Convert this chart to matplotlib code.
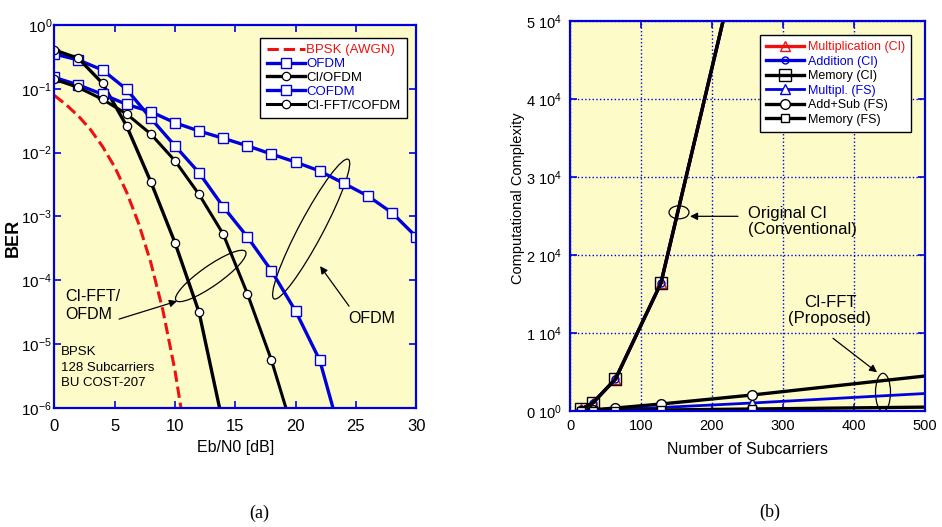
import numpy as np
import matplotlib
matplotlib.use("Agg")
import matplotlib.pyplot as plt
import matplotlib.transforms as mtrans
from matplotlib.patches import Ellipse

plt.rcParams['font.family'] = ['Liberation Sans', 'DejaVu Sans']
plt.rcParams['mathtext.default'] = 'regular'

# === (a) BER vs Eb/N0 ===
ebn0_bpsk = [0, 1, 2, 3, 4, 5, 6, 7, 8, 9, 10, 10.5]
ber_bpsk = [0.079, 0.056, 0.0375, 0.023, 0.0125, 0.006, 0.0024, 7.7e-4, 1.9e-4, 3.4e-5, 3.9e-6, 1.0e-6]

ebn0_ofdm = [0, 2, 4, 6, 8, 10, 12, 14, 16, 18, 20, 22, 23.1]
ber_ofdm = [0.351, 0.283, 0.197, 0.098, 0.0345, 0.0128, 0.00484, 0.00142, 4.8e-4, 1.41e-4, 3.3e-5, 5.6e-6, 1.0e-6]

ebn0_ci_ofdm = [0, 2, 4, 6, 8, 10, 12, 13.7]
ber_ci_ofdm = [0.406, 0.30, 0.122, 0.0261, 0.0035, 3.9e-4, 3.16e-5, 1.0e-6]

ebn0_cofdm = [0, 2, 4, 6, 8, 10, 12, 14, 16, 18, 20, 22, 24, 26, 28, 30]
ber_cofdm = [0.151, 0.115, 0.082, 0.057, 0.0438, 0.0294, 0.0218, 0.0168, 0.0128, 0.0095,
             0.00712, 0.00515, 0.0033, 0.00209, 0.00114, 4.8e-4]

ebn0_cifft = [0, 2, 4, 6, 8, 10, 12, 14, 16, 18, 19.2]
ber_cifft = [0.141, 0.105, 0.0685, 0.0403, 0.0196, 0.00748, 0.00222, 5.3e-4, 6.2e-5, 5.6e-6, 1.0e-6]

# === (b) complexity vs number of subcarriers ===
n_sub = [16, 32, 64, 128, 256, 512]
mult_ci = [256, 1024, 4096, 16384, 65536, 262144]
add_ci = [256, 1024, 4096, 16384, 65536, 262144]
mem_ci = [256, 1024, 4096, 16384, 65536, 262144]
mult_fs = [32, 80, 192, 448, 1024, 2304]
add_fs = [64, 160, 384, 896, 2048, 4608]
mem_fs = [16, 32, 64, 128, 256, 512]

bg = '#fdfcc8'
blue = '#0000dd'
red = '#ee1111'

fig = plt.figure(figsize=(9.42, 5.27), dpi=100)
ax1 = fig.add_axes([0.0576, 0.2258, 0.3843, 0.7268])
ax2 = fig.add_axes([0.6051, 0.2201, 0.3769, 0.7400])


def ring(ax, x, y, w, h, ang):
    tr = fig.dpi_scale_trans + mtrans.ScaledTranslation(x, y, ax.transData)
    ax.add_patch(Ellipse((0, 0), w / 100, h / 100, angle=ang, transform=tr,
                         fill=False, ec='black', lw=0.9, clip_on=False))


def arrow(ax, tail, head):
    ax.annotate('', xy=head, xytext=tail,
                arrowprops=dict(arrowstyle='-|>', color='black', lw=0.9,
                                mutation_scale=11, shrinkA=0, shrinkB=0))


for ax in (ax1, ax2):
    ax.set_facecolor(bg)
    for s in ax.spines.values():
        s.set_color(blue)
        s.set_linewidth(1.6)
    ax.tick_params(direction='in', color=blue, width=1.2, length=5,
                   top=True, right=True, labelcolor='black')

# --- panel (a) ---
ax1.plot(ebn0_bpsk, ber_bpsk, color=red, ls='--', lw=2.2, label='BPSK (AWGN)')
ax1.plot(ebn0_ofdm, ber_ofdm, color=blue, lw=2.4, marker='s', ms=7, mfc='white',
         mec=blue, mew=1.0, markevery=list(range(12)), label='OFDM')
ax1.plot(ebn0_ci_ofdm, ber_ci_ofdm, color='black', lw=2.4, marker='o', ms=6, mfc='white',
         mec='black', mew=0.9, markevery=list(range(7)), label='CI/OFDM')
ax1.plot(ebn0_cofdm, ber_cofdm, color=blue, lw=2.4, marker='s', ms=7.5, mfc='white',
         mec=blue, mew=1.0, label='COFDM')
ax1.plot(ebn0_cifft, ber_cifft, color='black', lw=2.2, marker='o', ms=6, mfc='white',
         mec='black', mew=0.9, markevery=list(range(10)), label='CI-FFT/COFDM')

ax1.set_yscale('log')
ax1.set_xlim(0, 30)
ax1.set_ylim(1e-6, 1)
ax1.set_xticks([0, 5, 10, 15, 20, 25, 30])
yt = [1e-6, 1e-5, 1e-4, 1e-3, 1e-2, 1e-1, 1]
ax1.set_yticks(yt)
ax1.set_yticklabels(['$10^{%d}$' % e for e in range(-6, 1)])
ax1.minorticks_off()
ax1.tick_params(axis='y', labelsize=11, pad=1.5)
ax1.tick_params(axis='x', labelsize=12, pad=8)
ax1.set_xlabel('Eb/N0 [dB]', fontsize=11.5, labelpad=4)
ax1.set_ylabel('BER', fontsize=13, fontweight='bold')
ax1.yaxis.set_label_coords(-0.089, 0.444)

leg1 = ax1.legend(loc='upper right', bbox_to_anchor=(0.975, 0.967), borderaxespad=0,
                  fontsize=9.5, handlelength=2.9, handletextpad=0.1, labelspacing=0.12,
                  fancybox=False, edgecolor='black', framealpha=1, borderpad=0.5)
leg1.get_frame().set_linewidth(1.0)
for t, c in zip(leg1.get_texts(), [red, blue, 'black', blue, 'black']):
    t.set_color(c)

ring(ax1, 12.97, 1.17e-4, 85, 20, 35)
ring(ax1, 21.29, 6.35e-4, 158, 24, 62)
arrow(ax1, (5.37, 2.47e-5), (10.17, 4.72e-5))
arrow(ax1, (24.43, 3.94e-5), (22.03, 1.67e-4))
ax1.text(0.89, 7.3e-5, 'CI-FFT/\nOFDM', fontsize=11.5, va='top', ha='left', linespacing=1.25)
ax1.text(24.38, 2.13e-5, 'OFDM', fontsize=11.5, va='baseline', ha='left')
ax1.text(0.56, 9.3e-6, 'BPSK\n128 Subcarriers\nBU COST-207', fontsize=9.5,
         va='top', ha='left', linespacing=1.4)

# --- panel (b) ---
ax2.grid(True, color=blue, ls=':', lw=1.0)
ax2.plot(n_sub, mult_ci, color=red, lw=2.4, marker='^', ms=7, mfc='none', mec=red,
         label='Multiplication (CI)')
ax2.plot(n_sub, add_ci, color=blue, lw=2.4, marker='o', ms=5, mfc='none', mec=blue,
         label='Addition (CI)')
ax2.plot(n_sub, mem_ci, color='black', lw=2.4, marker='s', ms=8, mfc='none', mec='black',
         label='Memory (CI)')
ax2.plot(n_sub, mult_fs, color=blue, lw=2.0, marker='^', ms=7, mfc='white', mec=blue,
         label='Multipl. (FS)')
ax2.plot(n_sub, add_fs, color='black', lw=2.4, marker='o', ms=7, mfc='white', mec='black',
         label='Add+Sub (FS)')
ax2.plot(n_sub, mem_fs, color='black', lw=2.4, marker='s', ms=6, mfc='white', mec='black',
         label='Memory (FS)')

ax2.set_xlim(0, 500)
ax2.set_ylim(0, 50000)
ax2.set_xticks([0, 100, 200, 300, 400, 500])
ax2.set_yticks([0, 10000, 20000, 30000, 40000, 50000])
ax2.set_yticklabels(['0 $10^0$', '1 $10^4$', '2 $10^4$', '3 $10^4$', '4 $10^4$', '5 $10^4$'])
ax2.tick_params(axis='both', labelsize=10.5, pad=6)
ax2.set_xlabel('Number of Subcarriers', fontsize=11.5, labelpad=6)
ax2.set_ylabel('Computational Complexity', fontsize=10.5)
ax2.yaxis.set_label_coords(-0.128, 0.547)

leg2 = ax2.legend(loc='upper right', bbox_to_anchor=(0.9606, 0.964), borderaxespad=0,
                  fontsize=9, handlelength=3.0, handletextpad=0.3, labelspacing=0.2,
                  fancybox=False, edgecolor='black', framealpha=1, borderpad=0.5)
leg2.get_frame().set_linewidth(1.0)
for t, c in zip(leg2.get_texts(), [red, blue, 'black', blue, 'black', 'black']):
    t.set_color(c)

ring(ax2, 153.5, 25474, 20, 13, 0)
ring(ax2, 440.8, 2397, 15, 38, 0)
arrow(ax2, (236.6, 24962), (169, 24962))
arrow(ax2, (370.4, 9321), (432.4, 4962))
ax2.text(250.7, 24256, 'Original CI\n(Conventional)', fontsize=12, va='center', ha='left',
         linespacing=1.1)
ax2.text(366, 12910, 'CI-FFT\n(Proposed)', fontsize=12, va='center', ha='center',
         linespacing=1.1)

fig.text(0.275, 0.0266, '(a)', fontsize=13, family=['Liberation Serif', 'DejaVu Serif'],
         ha='center', va='center')
fig.text(0.817, 0.0285, '(b)', fontsize=13, family=['Liberation Serif', 'DejaVu Serif'],
         ha='center', va='center')

fig.savefig('out.png', dpi=100, facecolor='white')
